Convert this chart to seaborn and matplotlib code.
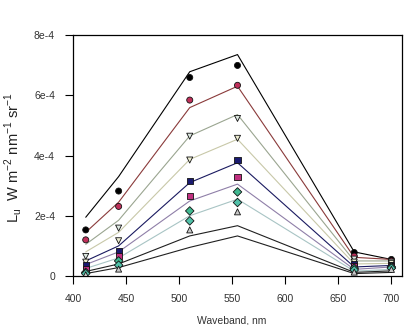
import numpy as np
import pandas as pd
import matplotlib
matplotlib.use("Agg")
import matplotlib.pyplot as plt
import seaborn as sns

# Wavebands (nm)
wavebands = [412, 443, 510, 555, 665, 700]

# Measured upwelling radiance, units of 1e-4 W m-2 nm-1 sr-1
meas_1 = [1.53, 2.82, 6.59, 6.99, 0.78, 0.55]
meas_2 = [1.20, 2.31, 5.84, 6.33, 0.66, 0.50]
meas_3 = [0.65, 1.59, 4.64, 5.23, 0.56, 0.46]
meas_4 = [0.46, 1.17, 3.85, 4.57, 0.46, 0.42]
meas_5 = [0.36, 0.84, 3.16, 3.85, 0.40, 0.38]
meas_6 = [0.23, 0.65, 2.64, 3.30, 0.33, 0.34]
meas_7 = [0.12, 0.50, 2.16, 2.79, 0.26, 0.30]
meas_8 = [0.08, 0.36, 1.83, 2.44, 0.20, 0.26]
meas_9 = [0.04, 0.23, 1.53, 2.13, 0.13, 0.22]

# Modelled upwelling radiance, same units
model_1 = [1.95, 3.30, 6.78, 7.35, 0.80, 0.55]
model_2 = [1.45, 2.45, 5.59, 6.30, 0.62, 0.55]
model_3 = [1.05, 1.85, 4.65, 5.36, 0.50, 0.50]
model_4 = [0.80, 1.45, 3.87, 4.54, 0.40, 0.42]
model_5 = [0.50, 1.00, 3.10, 3.76, 0.30, 0.35]
model_6 = [0.38, 0.80, 2.49, 3.05, 0.22, 0.30]
model_7 = [0.25, 0.60, 2.00, 2.55, 0.16, 0.22]
model_8 = [0.15, 0.40, 1.33, 1.67, 0.12, 0.17]
model_9 = [0.08, 0.28, 0.95, 1.33, 0.08, 0.12]

scale = 1e-4
measured = [meas_1, meas_2, meas_3, meas_4, meas_5, meas_6, meas_7, meas_8, meas_9]
modelled = [model_1, model_2, model_3, model_4, model_5, model_6, model_7, model_8, model_9]
runs = [f"run{i + 1}" for i in range(9)]

ytick_values = [0, 2e-4, 4e-4, 6e-4, 8e-4]
ytick_labels = ["0", "2e-4", "4e-4", "6e-4", "8e-4"]
xtick_values = [400, 450, 500, 550, 600, 650, 700]

line_colors = ["#000000", "#8a3a3a", "#9aa590", "#c8c8a8", "#1a1a60",
               "#8f7fa8", "#a8c4c4", "#202020", "#202020"]
marker_fill = ["#000000", "#c0305a", "#dde8e0", "#ececd0", "#1a1a70",
               "#c03080", "#40b890", "#50c0a8", "#c8c8c8"]
marker_shape = ["o", "o", "v", "v", "s", "s", "D", "D", "^"]

df_model = pd.DataFrame({
    "wavelength": np.tile(wavebands, len(runs)),
    "Lu": np.concatenate(modelled) * scale,
    "run": np.repeat(runs, len(wavebands)),
})
df_meas = pd.DataFrame({
    "wavelength": np.tile(wavebands, len(runs)),
    "Lu": np.concatenate(measured) * scale,
    "run": np.repeat(runs, len(wavebands)),
})

sns.set_style("white")
plt.rcParams["font.family"] = ["Liberation Sans", "DejaVu Sans"]
plt.rcParams["mathtext.fontset"] = "custom"
plt.rcParams["mathtext.rm"] = "Liberation Sans"

fig = plt.figure(figsize=(4.18, 3.25), dpi=100)
ax = fig.add_axes([73 / 418, 1 - 276 / 325, 329 / 418, 241 / 325])

sns.lineplot(data=df_model, x="wavelength", y="Lu", hue="run",
             palette=dict(zip(runs, line_colors)), estimator=None,
             sort=False, linewidth=0.8, legend=False, ax=ax)
sns.scatterplot(data=df_meas, x="wavelength", y="Lu", hue="run", style="run",
                palette=dict(zip(runs, marker_fill)),
                markers=dict(zip(runs, marker_shape)),
                s=19, edgecolor="#111111", linewidth=0.6, legend=False,
                ax=ax, zorder=3)

ax.set_xlim(400, 710)
ax.set_ylim(0, 8e-4)
ax.set_xticks(xtick_values)
ax.set_xticklabels([str(v) for v in xtick_values])
ax.set_yticks(ytick_values)
ax.set_yticklabels(ytick_labels)

for side in ["left", "right", "top", "bottom"]:
    ax.spines[side].set_visible(True)
    ax.spines[side].set_color("black")
    ax.spines[side].set_linewidth(0.9)

ax.tick_params(axis="both", which="major", direction="out", length=6,
               width=0.8, color="black", labelsize=7.5, labelcolor="#333333",
               bottom=True, left=True, top=False, right=False, pad=7)

ax.set_xlabel("Waveband, nm", fontsize=7.5, color="#333333")
ax.set_ylabel(r"$\mathrm{L}_\mathrm{u}$  W m$^{-2}$ nm$^{-1}$ sr$^{-1}$",
              fontsize=10.5, color="#222222")
ax.xaxis.set_label_coords(0.483, -0.165)
ax.yaxis.set_label_coords(-0.15, 0.49)

fig.savefig("out.png", dpi=100, facecolor="white")
